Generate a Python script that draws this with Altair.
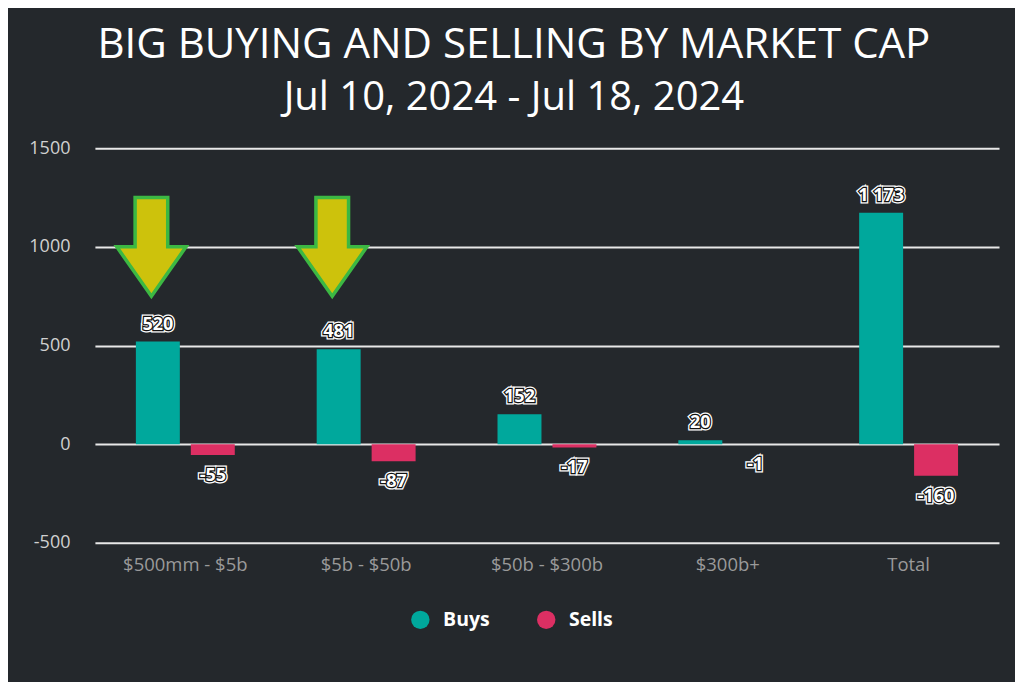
import altair as alt
import pandas as pd

categories = ["$500mm - $5b", "$5b - $50b", "$50b - $300b", "$300b+", "Total"]
buys = [520, 481, 152, 20, 1173]
sells = [-55, -87, -17, -1, -160]
series_names = ["Buys", "Sells"]
series_colors = ["#00a89c", "#dc2f63"]
arrow_categories = ["$500mm - $5b", "$5b - $50b"]
arrow_values = [1000, 1000]
y_ticks = [-500, 0, 500, 1000, 1500]
title_text = "BIG BUYING AND SELLING BY MARKET CAP"
subtitle_text = "Jul 10, 2024 - Jul 18, 2024"

BG = "#24282c"
FONT = "Open Sans"

rows = []
for c, b, s in zip(categories, buys, sells):
    rows.append({"category": c, "series": "Buys", "value": b,
                 "label": f"{b:,}".replace(",", " ")})
    rows.append({"category": c, "series": "Sells", "value": s,
                 "label": f"{s:,}".replace(",", " ")})
df = pd.DataFrame(rows)
arrows = pd.DataFrame({"category": arrow_categories, "series": "Buys", "value": arrow_values})

x = alt.X("category:N", sort=categories,
          scale=alt.Scale(paddingInner=0.453, paddingOuter=0.2265),
          axis=alt.Axis(title=None, labelAngle=0, labelColor="#9a9a9a", labelFontSize=18.5,
                        labelFont=FONT, labelPadding=13, domain=False, ticks=False, grid=False))
xoff = alt.XOffset("series:N", sort=series_names,
                   scale=alt.Scale(domain=series_names, paddingInner=0.2, paddingOuter=0))
y = alt.Y("value:Q", scale=alt.Scale(domain=[-500, 1500], nice=False),
          axis=alt.Axis(values=y_ticks, title=None, domain=False, ticks=False,
                        labelExpr="datum.value + ''",
                        labelColor="#d0d0d0", labelFontSize=18, labelFont=FONT, labelPadding=25,
                        gridColor="#e8e8e8", gridWidth=2, gridOpacity=1))

bars = alt.Chart(df).mark_bar().encode(
    x=x, xOffset=xoff, y=y,
    color=alt.Color("series:N", sort=series_names,
                    scale=alt.Scale(domain=series_names, range=series_colors),
                    legend=alt.Legend(title=None, orient="none", legendX=316, legendY=462,
                                      direction="horizontal", symbolType="circle",
                                      symbolSize=340, symbolStrokeWidth=0,
                                      labelColor="white", labelFontSize=19.5,
                                      labelFontWeight="bold", labelFont=FONT,
                                      labelOffset=13, columnPadding=46)),
)

def labels(series, baseline, dy):
    base = alt.Chart(df).transform_filter(alt.datum.series == series)
    enc = dict(x=x, xOffset=xoff, y=y, text="label:N")
    kw = dict(baseline=baseline, dy=dy, fontSize=18, font=FONT, fontWeight="bold", align="center")
    halo = base.mark_text(stroke="white", strokeWidth=5, fill="white", **kw).encode(**enc)
    outline = base.mark_text(stroke="#111111", strokeWidth=2.5, fill="white", **kw).encode(**enc)
    fill = base.mark_text(fill="white", **kw).encode(**enc)
    return halo + outline + fill

arrow_path = "M -0.46 -1 L 0.2 -1 L 0.2 0 L 0.57 0 L -0.13 1 L -0.83 0 L -0.46 0 Z"
arrow_marks = alt.Chart(arrows).mark_point(
    shape=arrow_path, size=9800, filled=True, fill="#cdc20c", fillOpacity=1,
    stroke="#3cb843", strokeWidth=3.5, opacity=1
).encode(x=x, xOffset=xoff, y=y)

chart = alt.layer(bars, labels("Buys", "bottom", -8), labels("Sells", "top", 12), arrow_marks).properties(
    width=905, height=395,
    title=alt.TitleParams(text=title_text, subtitle=subtitle_text,
                          fontSize=42, font=FONT, fontWeight="normal", color="white",
                          subtitleFontSize=40, subtitleFont=FONT, subtitleFontWeight="normal",
                          subtitleColor="white", subtitlePadding=11,
                          anchor="middle", frame="bounds", offset=20),
    autosize=alt.AutoSizeParams(type="none"),
    padding={"left": 87, "top": 140, "right": 16, "bottom": 139},
    background=BG,
).configure_view(stroke=None)

chart.save("out.html", embed_options={"renderer": "svg", "actions": False})
